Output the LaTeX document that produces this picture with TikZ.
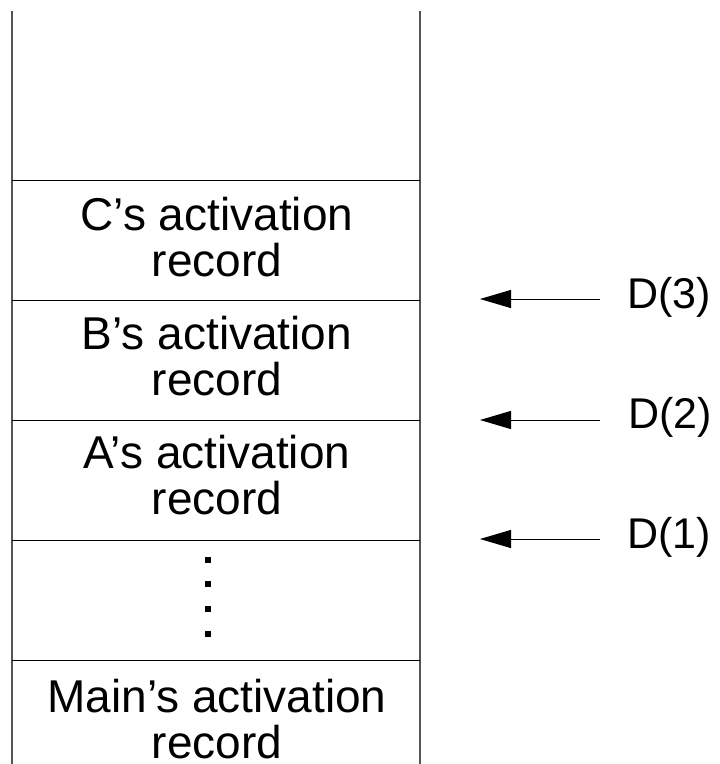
\documentclass[tikz,border=0pt]{standalone}
\usepackage{fontspec}
\setmainfont{Liberation Sans}
\usetikzlibrary{arrows.meta}
\newcommand{\rec}[1]{#1's activation\\record}
\newcommand{\ptr}[1]{D(#1)}
\definecolor{wallgray}{HTML}{555555}
\tikzset{
    wall/.style={draw=wallgray, line width=2pt},
    divider/.style={draw=black, line width=1pt},
    frame/.style={align=center, inner sep=0pt, font=\fontsize{46}{46}\selectfont},
    plabel/.style={anchor=west, inner sep=0pt, font=\fontsize{43}{47}\selectfont},
    pointer/.style={line width=1pt, -{Triangle[length=31pt,width=18pt]}},
}

\begin{document}
\begin{tikzpicture}[x=1pt, y=-1pt]
    \useasboundingbox (0,0) rectangle (720,764);
    % stack walls and dividers
    \draw[wall] (12,11) -- (12,764);
    \draw[wall] (420,11) -- (420,764);
    \foreach \y in {180,300,420,540,660}
        \draw[divider] (12,\y) -- (420,\y);
    % frames
    \node[frame] (c) at (217,237) {\rec{C}};
    \node[frame] (b) at (217,356) {\rec{B}};
    \node[frame] (a) at (217,475) {\rec{A}};
    \node[frame] (main) at (217,719) {\rec{Main}};
    \coordinate (dots) at (208,597);
    \foreach \y in {-37,-13,12,37}
        \fill ([shift={(-3,\y-3)}]dots) rectangle ++(6,6);
    % display pointers
    \node[plabel] (d3) at (627,297) {\ptr{3}};
    \node[plabel] (d2) at (628,417) {\ptr{2}};
    \node[plabel] (d1) at (627,537) {\ptr{1}};
    \coordinate (t3) at (480,299);
    \coordinate (t2) at (480,420);
    \coordinate (t1) at (480,539);
    \draw[pointer] (600,299) -- (t3);
    \draw[pointer] (600,420) -- (t2);
    \draw[pointer] (600,539) -- (t1);
\end{tikzpicture}
\end{document}
